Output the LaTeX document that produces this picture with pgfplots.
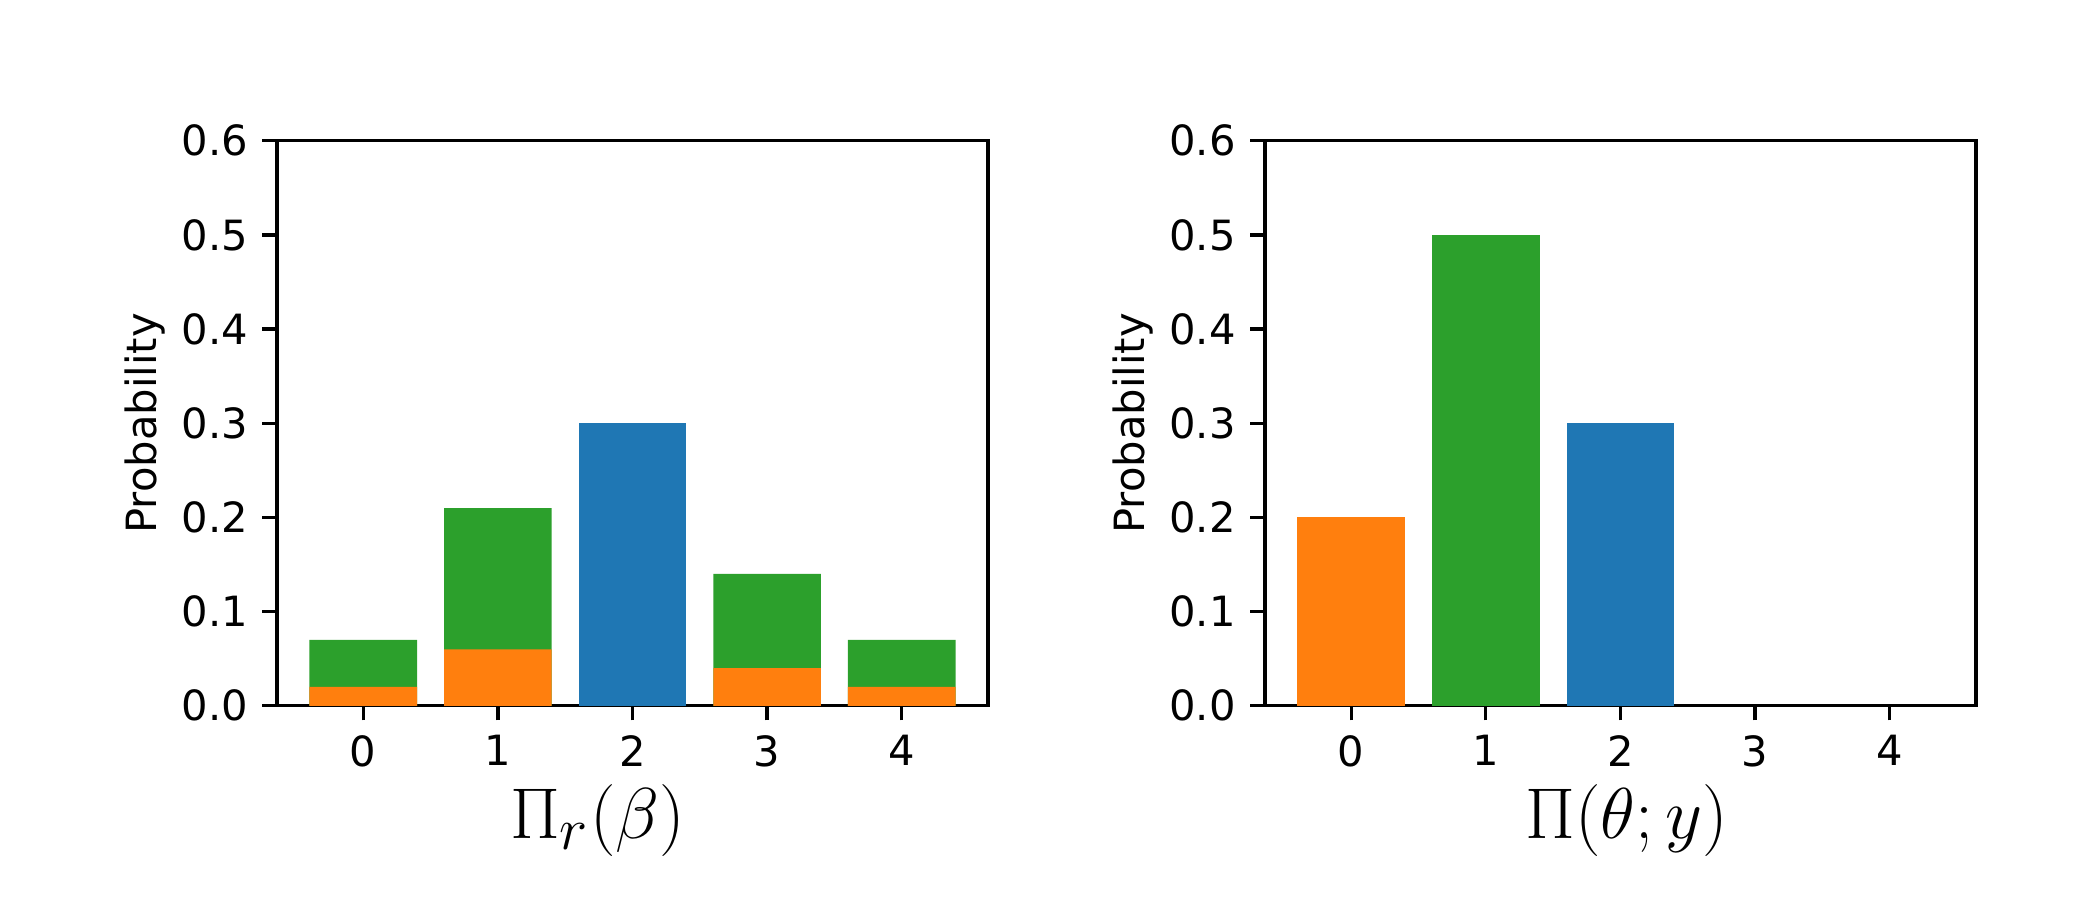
\documentclass[border=0pt]{standalone}
\usepackage{fontspec}
\setmainfont{DejaVu Sans}
\usepackage{pgfplots}
\pgfplotsset{compat=1.18}

\definecolor{mblue}{HTML}{1F77B4}
\definecolor{morange}{HTML}{FF7F0E}
\definecolor{mgreen}{HTML}{2CA02C}

\pgfplotsset{
  probax/.style={
    scale only axis,
    width=170.6pt, height=135.6pt,
    anchor=south west,
    xmin=-0.64, xmax=4.64,
    ymin=0, ymax=0.6,
    xtick={0,1,2,3,4},
    ytick={0,0.1,0.2,0.3,0.4,0.5,0.6},
    yticklabel style={/pgf/number format/.cd, fixed, fixed zerofill, precision=1},
    /pgf/number format/assume math mode=true,
    tick pos=left,
    tick align=outside,
    major tick length=3.5pt,
    every tick/.style={black, line width=0.8pt},
    axis line style={line width=0.8pt},
    ticklabel style={font=\fontsize{10}{12}\selectfont},
    ylabel={Probability},
    ylabel style={font=\fontsize{10}{12}\selectfont, yshift=-3pt},
    xlabel style={font=\fontsize{19}{23}\selectfont, yshift=2.5pt},
    every axis plot/.append style={ybar, bar width=0.8, bar shift=0pt, draw=none},
  }
}

\begin{document}
\begin{tikzpicture}
\path (0,0) rectangle (504pt,216pt);

\begin{axis}[probax, at={(66.5pt,46.6pt)}, xlabel={$\Pi_r(\beta)$},
  xlabel style={xshift=-8.4pt}]
\addplot[fill=mgreen] coordinates {(0,0.07) (1,0.21) (3,0.14) (4,0.07)};
\addplot[fill=morange] coordinates {(0,0.02) (1,0.06) (3,0.04) (4,0.02)};
\addplot[fill=mblue] coordinates {(2,0.30)};
\end{axis}

\begin{axis}[probax, at={(303.6pt,46.6pt)}, xlabel={$\Pi(\theta;y)$},
  xlabel style={xshift=1.5pt}]
\addplot[fill=morange] coordinates {(0,0.20)};
\addplot[fill=mgreen] coordinates {(1,0.50)};
\addplot[fill=mblue] coordinates {(2,0.30)};
\end{axis}
\end{tikzpicture}
\end{document}
